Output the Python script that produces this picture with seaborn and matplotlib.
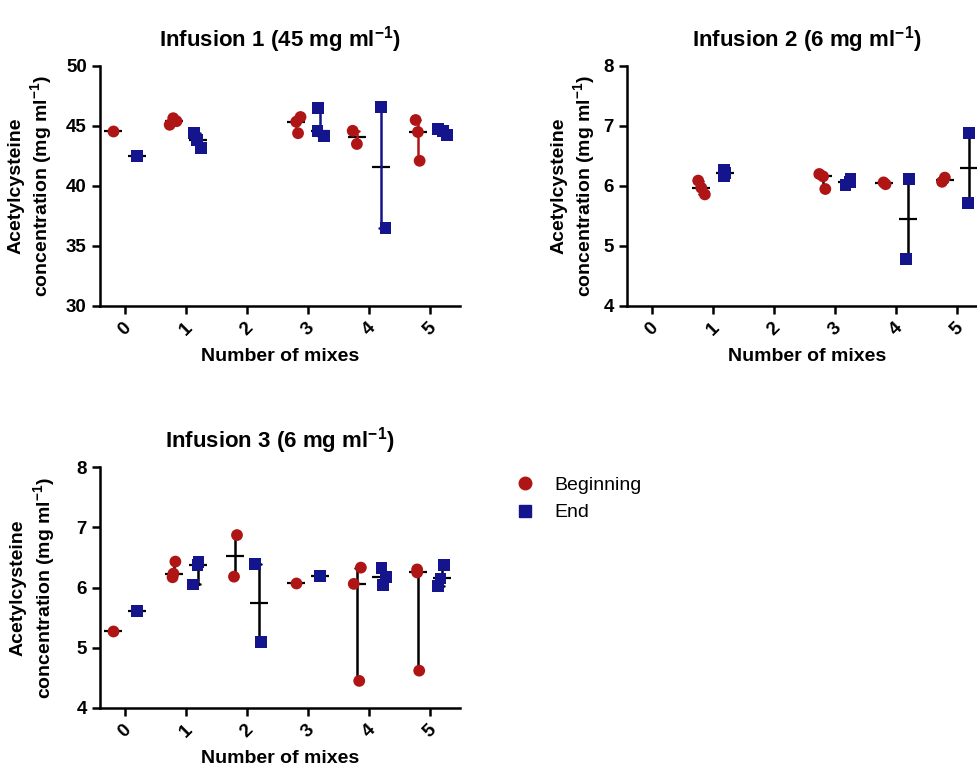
import numpy as np
import pandas as pd
import matplotlib
matplotlib.use("Agg")
import matplotlib.pyplot as plt
import seaborn as sns
from matplotlib.lines import Line2D

sns.set_theme(style="ticks")
plt.rcParams['font.family'] = ['Liberation Sans', 'DejaVu Sans']
plt.rcParams['mathtext.fontset'] = 'custom'
plt.rcParams['mathtext.rm'] = 'Liberation Sans'
plt.rcParams['mathtext.bf'] = 'Liberation Sans:bold'
for k in ('text.color', 'axes.labelcolor', 'xtick.color', 'ytick.color', 'axes.edgecolor'):
    plt.rcParams[k] = 'black'

mixes = ['0', '1', '2', '3', '4', '5']
times = ['Beginning', 'End']
colors = {'Beginning': '#B01515', 'End': '#14148C'}

# Infusion 1 (45 mg/ml)
inf1_begin = {'0': [44.6], '1': [45.1, 45.4, 45.65], '3': [44.4, 45.75, 45.35],
              '4': [43.5, 44.6], '5': [45.5, 44.5, 42.1]}
inf1_end = {'0': [42.5], '1': [43.2, 43.8, 44.4], '3': [46.5, 44.2, 44.6],
            '4': [46.6, 36.5], '5': [44.75, 44.55, 44.25]}
# Infusion 2 (6 mg/ml)
inf2_begin = {'1': [6.09, 5.97, 5.86], '3': [6.2, 6.16, 5.95],
              '4': [6.03, 6.06], '5': [6.07, 6.14]}
inf2_end = {'1': [6.27, 6.22, 6.17], '3': [6.12, 6.06, 6.02],
            '4': [6.12, 4.79], '5': [6.89, 5.71]}
# Infusion 3 (6 mg/ml)
inf3_begin = {'0': [5.27], '1': [6.43, 6.17, 6.23], '2': [6.87, 6.18], '3': [6.08],
              '4': [6.33, 6.06, 4.45], '5': [6.3, 6.25, 4.62]}
inf3_end = {'0': [5.61], '1': [6.42, 6.38, 6.05], '2': [6.39, 5.1], '3': [6.19],
            '4': [6.33, 6.04, 6.18], '5': [6.37, 6.02, 6.15]}

titles = [r'Infusion 1 (45 mg ml$^{\mathbf{-1}}$)',
          r'Infusion 2 (6 mg ml$^{\mathbf{-1}}$)',
          r'Infusion 3 (6 mg ml$^{\mathbf{-1}}$)']
ylims = [(30, 50), (4, 8), (4, 8)]
yticks = [[30, 35, 40, 45, 50], [4, 5, 6, 7, 8], [4, 5, 6, 7, 8]]


def to_df(begin, end):
    rows = []
    for t, d in (('Beginning', begin), ('End', end)):
        for m, vals in d.items():
            for v in vals:
                rows.append({'mix': m, 'time': t, 'conc': v})
    return pd.DataFrame(rows)


datasets = [to_df(inf1_begin, inf1_end), to_df(inf2_begin, inf2_end), to_df(inf3_begin, inf3_end)]

W, H = 977, 770
fig = plt.figure(figsize=(W / 100, H / 100), dpi=100)
positions = [
    [100 / W, 1 - 306 / H, 360 / W, 240 / H],
    [627 / W, 1 - 306 / H, 360 / W, 240 / H],
    [100 / W, 1 - 708 / H, 360 / W, 241 / H],
]
ylabel_x = [-0.125, -0.08, -0.118]

np.random.seed(7)
for i, (df, pos) in enumerate(zip(datasets, positions)):
    ax = fig.add_axes(pos)
    colored_bars = (i == 0)
    for t in times:
        sub = df[df.time == t]
        sns.pointplot(data=sub, x='mix', y='conc', hue='time', hue_order=times,
                      order=mixes, estimator=np.median,
                      errorbar=lambda x: (np.min(x), np.max(x)),
                      dodge=0.4, linestyle='none', marker='_', markersize=13,
                      markeredgewidth=1.6, markeredgecolor='black', markerfacecolor='black',
                      capsize=0.07,
                      err_kws={'linewidth': 1.8,
                               'color': colors[t] if colored_bars else 'black'},
                      palette=colors, ax=ax, legend=False)
    for t, mk in (('Beginning', 'o'), ('End', 's')):
        sub = df[df.time == t]
        sns.stripplot(data=sub, x='mix', y='conc', hue='time', hue_order=times,
                      order=mixes, palette=colors, dodge=True, jitter=0.16,
                      marker=mk, size=8.5, linewidth=0, ax=ax, legend=False, zorder=5)
    ax.set_xlim(-0.41, 5.49)
    ax.set_ylim(*ylims[i])
    ax.set_yticks(yticks[i])
    ax.set_yticklabels([str(v) for v in yticks[i]], fontsize=13.5, fontweight='bold')
    ax.set_xticks(range(6))
    ax.set_xticklabels(mixes, rotation=45, fontsize=13.5, fontweight='bold')
    for s in ('top', 'right'):
        ax.spines[s].set_visible(False)
    for s in ('left', 'bottom'):
        ax.spines[s].set_linewidth(1.8)
        ax.spines[s].set_color('black')
    ax.tick_params(axis='both', direction='out', length=6, width=1.8, color='black')
    ax.set_xlabel('Number of mixes', fontsize=14, fontweight='bold', labelpad=7)
    ax.set_ylabel('Acetylcysteine\n' + r'concentration (mg ml$^{\mathbf{-1}}$)',
                  fontsize=14, fontweight='bold')
    ax.yaxis.set_label_coords(ylabel_x[i], 0.5)
    ax.set_title(titles[i], fontsize=16, fontweight='bold', pad=14)
    ax.set_facecolor('none')

handles = [Line2D([], [], marker='o', color=colors['Beginning'], linestyle='none', markersize=9),
           Line2D([], [], marker='s', color=colors['End'], linestyle='none', markersize=8)]
fig.legend(handles, times, loc='upper left', bbox_to_anchor=(488 / W, 1 - 459 / H),
           frameon=False, fontsize=14, handletextpad=0.5, labelspacing=0.5)

fig.savefig('out.png', dpi=100)
